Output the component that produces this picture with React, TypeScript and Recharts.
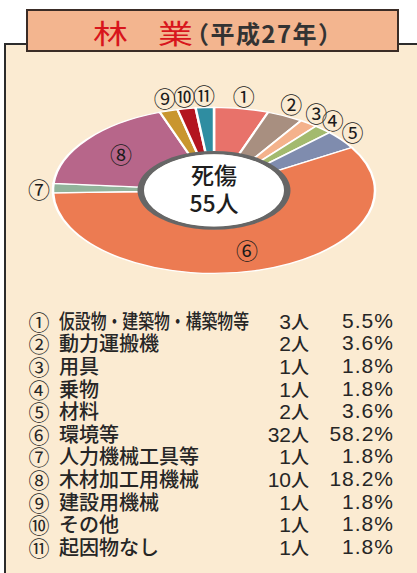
import React from 'react';
import { PieChart, Pie, Cell } from 'recharts';

// ---- data ----
const markers = ['①', '②', '③', '④', '⑤', '⑥', '⑦', '⑧', '⑨', '⑩', '⑪'];
const causes = [
  '仮設物・建築物・構築物等',
  '動力運搬機',
  '用具',
  '乗物',
  '材料',
  '環境等',
  '人力機械工具等',
  '木材加工用機械',
  '建設用機械',
  'その他',
  '起因物なし',
];
const counts = [3, 2, 1, 1, 2, 32, 1, 10, 1, 1, 1];
const percents = ['5.5', '3.6', '1.8', '1.8', '3.6', '58.2', '1.8', '18.2', '1.8', '1.8', '1.8'];
const colors = [
  '#E8726A',
  '#A88F80',
  '#F4B28C',
  '#A3BA6E',
  '#7F8CAE',
  '#EC7B52',
  '#92B39B',
  '#B7668A',
  '#C9962F',
  '#B3151F',
  '#2F8DA1',
];
const titleMain = ['林', '業'];
const titleSub = '（平成27年）';
const centerTop = '死傷';
const unit = '人';

const total = counts.reduce((a, b) => a + b, 0);
const pieData = causes.map((name, i) => ({ name, value: counts[i] }));
const discData = [{ name: 'disc', value: 1 }];

// ---- geometry ----
const RADIAN = Math.PI / 180;
const R = 161;
const K = 83 / 161;
const INNER = 74;
const GAP = 14;
const CHART_W = 417;
const CHART_H = 440;
const CX = 214;
const CY = 220;
const CENTER_Y = 190;
const MIN_LABEL_DIST = 18;

const JP = '"Noto Sans CJK JP", "Noto Sans", sans-serif';
const LAT = '"Liberation Sans", Arial, "Noto Sans CJK JP", sans-serif';

const isInside = (i: number) => counts[i] >= 10;

// simple anti-collision for outside labels (angles clockwise from top, degrees)
const labelShift: number[] = (() => {
  const mids: number[] = [];
  let acc = 0;
  counts.forEach((c) => {
    mids.push(((acc + c / 2) / total) * 360);
    acc += c;
  });
  const ang = [...mids];
  const pos = (t: number) => ({
    x: (R + GAP) * Math.sin(t * RADIAN),
    y: -(R * K + GAP) * Math.cos(t * RADIAN),
  });
  const outside = counts.map((_, i) => i).filter((i) => !isInside(i));
  for (let iter = 0; iter < 200; iter++) {
    let moved = false;
    for (let j = 0; j < outside.length; j++) {
      const a = outside[j];
      const b = outside[(j + 1) % outside.length];
      const pa = pos(ang[a]);
      const pb = pos(ang[b]);
      const d = Math.hypot(pa.x - pb.x, pa.y - pb.y);
      if (d < MIN_LABEL_DIST) {
        ang[a] -= 0.2;
        ang[b] += 0.2;
        moved = true;
      }
    }
    if (!moved) break;
  }
  return ang.map((a, i) => a - mids[i]);
})();

const renderLabel = (props: any) => {
  const { cx, cy, midAngle, index } = props;
  const theta = (midAngle - labelShift[index]) * RADIAN;
  const c = Math.cos(-theta);
  const s = Math.sin(-theta);
  let x: number;
  let y: number;
  if (isInside(index)) {
    const r = (INNER + R) / 2;
    x = cx + r * c;
    y = cy + r * s;
  } else {
    x = cx + (R + GAP) * c;
    y = cy + (R + GAP / K) * s;
  }
  return (
    <text
      key={`lbl-${index}`}
      transform={`translate(${x},${y}) scale(1,${1 / K})`}
      textAnchor="middle"
      dominantBaseline="central"
      fontSize={22}
      fill="#1b1b1b"
      fontFamily={JP}
    >
      {markers[index]}
    </text>
  );
};

const ROW0 = 309.7;
const ROW_H = 22.6;
const LABEL_FS = 20;
const LABEL_MAX_W = 190;

export default function App() {
  return (
    <div
      style={{
        position: 'absolute',
        left: 0,
        top: 0,
        width: 417,
        height: 573,
        overflow: 'hidden',
        background: '#ffffff',
        fontFamily: JP,
      }}
    >
      {/* panel */}
      <div
        style={{
          position: 'absolute',
          left: 4,
          top: 43,
          width: 440,
          height: 560,
          background: '#FBEBD2',
          borderLeft: '2px solid #2c2c2c',
          borderTop: '2px solid #2c2c2c',
        }}
      />
      {/* title box */}
      <div
        style={{
          position: 'absolute',
          left: 26,
          top: 9,
          width: 373,
          height: 43,
          boxSizing: 'border-box',
          background: '#F3B58F',
          border: '2px solid #3a2c26',
        }}
      />
      <svg style={{ position: 'absolute', left: 0, top: 0 }} width={417} height={60}>
        <text x={93} y={43.5} fontSize={27} fill="#D8151C" fontFamily={JP} textLength={35} lengthAdjust="spacingAndGlyphs">
          {titleMain[0]}
        </text>
        <text x={158} y={43.5} fontSize={27} fill="#D8151C" fontFamily={JP} textLength={35} lengthAdjust="spacingAndGlyphs">
          {titleMain[1]}
        </text>
        <text x={185} y={42.5} fontSize={24} fontWeight={700} fill="#333" fontFamily={JP} textLength={157} lengthAdjust="spacing">
          {titleSub}
        </text>
      </svg>

      {/* pie (drawn circular, squeezed into an ellipse) */}
      <div
        style={{
          position: 'absolute',
          left: 0,
          top: CENTER_Y - CY * K,
          width: CHART_W,
          height: CHART_H,
          transform: `scaleY(${K})`,
          transformOrigin: '0 0',
        }}
      >
        <PieChart width={CHART_W} height={CHART_H} margin={{ top: 0, right: 0, bottom: 0, left: 0 }}>
          <Pie
            data={pieData}
            dataKey="value"
            cx={CX}
            cy={CY}
            innerRadius={INNER}
            outerRadius={R}
            startAngle={90}
            endAngle={-270}
            stroke="#ffffff"
            strokeWidth={2.5}
            label={renderLabel}
            labelLine={false}
            isAnimationActive={false}
          >
            {pieData.map((d, i) => (
              <Cell key={d.name} fill={colors[i]} />
            ))}
          </Pie>
          <Pie
            data={discData}
            dataKey="value"
            cx={CX}
            cy={CY}
            innerRadius={69.5}
            outerRadius={76.5}
            startAngle={90}
            endAngle={-270}
            fill="#666666"
            stroke="none"
            isAnimationActive={false}
          />
          <Pie
            data={discData}
            dataKey="value"
            cx={CX}
            cy={CY}
            innerRadius={0}
            outerRadius={70}
            startAngle={90}
            endAngle={-270}
            fill="#ffffff"
            stroke="none"
            isAnimationActive={false}
          />
        </PieChart>
      </div>

      {/* center text */}
      <div
        style={{
          position: 'absolute',
          left: CX - 60,
          width: 120,
          top: CENTER_Y - 30,
          height: 58,
          textAlign: 'center',
          fontSize: 23,
          lineHeight: '28px',
          color: '#1e1e1e',
          fontFamily: JP,
          fontWeight: 500,
        }}
      >
        <div>{centerTop}</div>
        <div>
          {total}
          {unit}
        </div>
      </div>

      {/* legend table */}
      {causes.map((name, i) => {
        const top = ROW0 + i * ROW_H;
        const natural = name.length * LABEL_FS;
        const sx = Math.min(1, LABEL_MAX_W / natural);
        return (
          <React.Fragment key={name}>
            <div
              style={{
                position: 'absolute',
                left: 28,
                top,
                width: 22,
                height: ROW_H,
                lineHeight: `${ROW_H}px`,
                textAlign: 'center',
                fontSize: 21,
                color: '#262626',
              }}
            >
              {markers[i]}
            </div>
            <div
              style={{
                position: 'absolute',
                left: 59,
                top,
                height: ROW_H,
                lineHeight: `${ROW_H}px`,
                fontSize: LABEL_FS,
                fontWeight: 500,
                color: '#262626',
                whiteSpace: 'nowrap',
                transform: `scaleX(${sx})`,
                transformOrigin: '0 50%',
              }}
            >
              {name}
            </div>
            <div
              style={{
                position: 'absolute',
                left: 230,
                width: 79,
                top,
                height: ROW_H,
                lineHeight: `${ROW_H}px`,
                textAlign: 'right',
                color: '#262626',
                whiteSpace: 'nowrap',
              }}
            >
              <span style={{ fontFamily: LAT, fontSize: 21 }}>{counts[i]}</span>
              <span style={{ fontFamily: JP, fontSize: 18, fontWeight: 500 }}>{unit}</span>
            </div>
            <div
              style={{
                position: 'absolute',
                left: 310,
                width: 84,
                top,
                height: ROW_H,
                lineHeight: `${ROW_H}px`,
                textAlign: 'right',
                fontFamily: LAT,
                fontSize: 21,
                letterSpacing: 1,
                color: '#262626',
                whiteSpace: 'nowrap',
              }}
            >
              {percents[i]}%
            </div>
          </React.Fragment>
        );
      })}
    </div>
  );
}
